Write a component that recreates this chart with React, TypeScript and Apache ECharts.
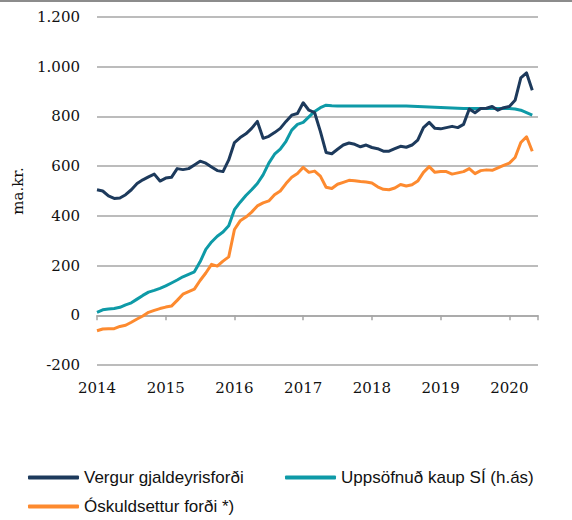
import React, { useEffect, useRef } from "react";
import * as echarts from "echarts";

// Monthly observations, Jan 2014 – May 2020 (index = months since Jan 2014)
const startYear = 2014;
const yearTicks = ["2014", "2015", "2016", "2017", "2018", "2019", "2020"];

const vergur = [
  505, 500, 480, 470, 472, 485, 505, 530, 545, 557, 568, 540,
  552, 555, 590, 586, 590, 605, 620, 612, 597, 582, 578, 625,
  695, 715, 730, 752, 780, 712, 720, 735, 752, 780, 805, 812,
  855, 825, 815, 740, 655, 650, 668, 685, 693, 688, 678, 685,
  675, 670, 660, 660, 670, 680, 676, 685, 705, 755, 776, 752,
  750, 755, 760, 755, 768, 830, 815, 832, 833, 840, 825, 835,
  840, 865, 955, 975, 905,
];

const uppsofnud = [
  12, 22, 25, 27, 32, 42, 50, 65, 80, 93, 100, 108,
  118, 130, 142, 155, 165, 175, 215, 265, 295, 318, 335, 360,
  425, 455, 482, 505, 530, 565, 612, 648, 668, 700, 745, 768,
  776, 798, 820, 835, 845, 843, 842, 842, 842, 842, 842, 842,
  842, 842, 842, 842, 842, 842, 842, 841, 840, 839, 838, 837,
  836, 835, 834, 833, 832, 832, 832, 832, 832, 832, 832, 832,
  832, 830, 825, 815, 805,
];

const oskuldsettur = [
  -62, -55, -54, -54, -45, -40, -28, -15, -3, 12, 20, 27,
  33, 37, 60, 85, 95, 105, 140, 170, 205, 198, 218, 235,
  345, 380, 395, 415, 440, 452, 460, 485, 500, 530, 555, 570,
  595, 575, 580, 560, 515, 510, 527, 535, 543, 541, 538, 536,
  532, 517, 507, 505, 512, 526, 520, 525, 540, 575, 598, 575,
  578, 578, 568, 573, 578, 590, 570, 582, 585, 583, 593, 603,
  612, 635, 695, 718, 660,
];

const seriesNames = [
  "Vergur gjaldeyrisforði",
  "Uppsöfnuð kaup SÍ (h.ás)",
  "Óskuldsettur forði *)",
];
const colors = ["#1d3a5c", "#0e9aa7", "#fd8a2f"];

const yMin = -200;
const yMax = 1200;
const yStep = 200;

const serif = "'DejaVu Serif', 'Liberation Serif', serif";
const narrow = "'Liberation Sans Narrow', 'Arial Narrow', 'Liberation Sans', sans-serif";

function fmtThousands(v: number): string {
  const s = Math.abs(v).toString().replace(/\B(?=(\d{3})+(?!\d))/g, ".");
  return (v < 0 ? "-" : "") + s;
}

export default function App() {
  const ref = useRef<HTMLDivElement>(null);
  useEffect(() => {
    if (!ref.current) return;
    const chart = echarts.init(ref.current, null, { renderer: "svg" });
    const toPairs = (arr: number[]) => arr.map((v, i) => [i, v]);
    const allSeries = [vergur, uppsofnud, oskuldsettur];
    const legendBase = {
      itemWidth: 51,
      itemHeight: 4,
      itemGap: 0,
      padding: 0,
      icon: "roundRect",
      textStyle: { fontFamily: narrow, fontSize: 17, color: "#111" },
    };
    chart.setOption({
      animation: false,
      backgroundColor: "#ffffff",
      graphic: [
        { type: "rect", left: 0, top: 0, shape: { width: 572, height: 2 }, style: { fill: "#8c8c8c" } },
      ],
      legend: [
        { ...legendBase, data: [seriesNames[0]], left: 28, top: 469 },
        { ...legendBase, data: [seriesNames[1]], left: 285, top: 469 },
        { ...legendBase, data: [seriesNames[2]], left: 28, top: 498 },
      ],
      grid: { left: 97, right: 34, top: 17, bottom: 155 },
      xAxis: [
        {
          type: "value",
          min: 0,
          max: 77,
          interval: 12,
          position: "bottom",
          axisLine: { show: false, onZero: false },
          axisTick: { show: false },
          splitLine: { show: false },
          axisLabel: {
            fontFamily: serif,
            fontSize: 15,
            color: "#111",
            margin: 15,
            showMaxLabel: false,
            formatter: (v: number) => {
              const idx = Math.round(v / 12);
              return yearTicks[idx] ?? String(startYear + idx);
            },
          },
        },
        {
          type: "value",
          min: 0,
          max: 77,
          interval: 12,
          position: "bottom",
          axisLine: { show: true, onZero: true, lineStyle: { color: "#a6a6a6", width: 1.5 } },
          axisTick: { show: true, length: 5, lineStyle: { color: "#a6a6a6", width: 1.5 } },
          axisLabel: { show: false },
          splitLine: { show: false },
        },
      ],
      yAxis: {
        type: "value",
        min: yMin,
        max: yMax,
        interval: yStep,
        name: "ma.kr.",
        nameLocation: "middle",
        nameGap: 72,
        nameRotate: 90,
        nameTextStyle: { fontFamily: serif, fontSize: 15, color: "#111" },
        axisLine: { show: false },
        axisTick: { show: false },
        splitLine: { lineStyle: { color: "#a6a6a6", width: 1.5 } },
        axisLabel: {
          fontFamily: serif,
          fontSize: 15,
          color: "#111",
          margin: 17,
          formatter: (v: number) => fmtThousands(v),
        },
      },
      series: allSeries.map((arr, i) => ({
        name: seriesNames[i],
        type: "line",
        xAxisIndex: 0,
        data: toPairs(arr),
        showSymbol: false,
        symbol: "none",
        color: colors[i],
        lineStyle: { color: colors[i], width: 3, join: "round" },
        z: i === 0 ? 3 : 2,
      })),
    });
    return () => chart.dispose();
  }, []);
  return (
    <div
      ref={ref}
      style={{ position: "absolute", left: 0, top: 0, width: 572, height: 520 }}
    />
  );
}
